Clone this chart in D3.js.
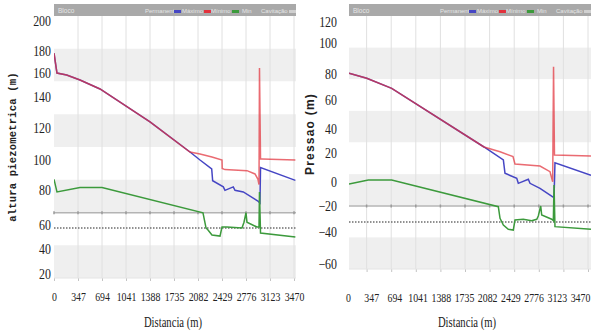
<!DOCTYPE html>
<html><head><meta charset="utf-8">
<script src="https://cdn.jsdelivr.net/npm/d3@7"></script>
<style>body{margin:0;background:#fff}svg{display:block}</style>
</head><body>
<svg id="c" width="591" height="334"></svg>
<script>
// ---------- data ----------
const xTicks = [0,347,694,1041,1388,1735,2082,2429,2776,3123,3470];
const leftYTicks = [20,40,60,80,100,120,140,160,180,200];
const rightYTicks = [-60,-40,-20,0,20,40,60,80,100,120];
const legendNames = ["Permanente","Máximo","Mínimo","Min","Cavitação"];

// Left: altura piezometrica (m) vs distancia (m)
const leftPermanente = [[0,178],[43,160],[183,158.3],[376,154.2],[665,146.7],[1388,123.9],[1966,105],[2111,100],[2280,94.1],[2294,86.2],[2448,82.1],[2472,79.8],[2592,82.1],[2617,79.8],[2737,78.9],[2954,73.5],[2978,72.6],[2986,95],[3490,86.4]];
const leftMaximo = [[0,178],[43,160],[183,158.3],[376,154.2],[665,146.7],[1388,123.9],[1966,105],[2111,103.8],[2284,101.9],[2429,100],[2432,94.3],[2472,93.6],[2790,92.9],[2906,90.7],[2949,87.1],[2964,83.6],[2971,164.5],[2986,100.6],[3007,100.6],[3490,100]];
const leftMinimo = [[0,87.1],[43,78.9],[376,81.6],[694,81.6],[2154,67],[2198,57.5],[2227,55.8],[2284,51.7],[2400,50.8],[2429,58.3],[2501,58.3],[2718,57.5],[2747,61.6],[2776,67],[2790,61.6],[2935,58.3],[2964,58.3],[2971,78.9],[2986,53.3],[3490,50]];
const leftVapor = 67;
const leftDotted = 57.5;

// Right: pressao (m) vs distancia (m)
const rightPermanente = [[99,80.5],[349,76.7],[701,69],[2003,25],[2276,15.2],[2299,6],[2465,2.6],[2487,-1.1],[2628,1.9],[2652,-1.1],[2793,-5.3],[2972,-12.3],[2991,-13.3],[3004,13.3],[3512,4.6]];
const rightMaximo = [[99,80.5],[349,76.7],[701,69],[2003,25],[2229,21],[2412,17.5],[2440,12.4],[2793,11],[2934,7.1],[2972,0.2],[2984,84.7],[2997,18.6],[3512,17.9]];
const rightMinimo = [[99,-1.7],[371,1.4],[701,1.4],[2205,-20.5],[2229,-29.5],[2276,-34.6],[2346,-37.9],[2416,-38.5],[2440,-30.8],[2557,-30.2],[2675,-31.3],[2747,-30.2],[2769,-27.7],[2803,-20],[2817,-26.9],[2958,-30.2],[2981,-31.3],[2991,-2.5],[3004,-35.9],[3512,-37.9]];
const rightVapor = -20;
const rightDotted = -32.3;

// ---------- drawing ----------
const svg = d3.select("#c");
svg.append("rect").attr("width",591).attr("height",334).attr("fill","#fff");

const COLORS = {perm:"#4646c4", max:"#e2323c", min:"#3c9a3c"};

function panel(cfg){
  const g = svg.append("g");
  const x = d3.scaleLinear().domain([0,3470]).range(cfg.xRange);
  const xl = d3.scaleLinear().domain([0,3470]).range(cfg.xLabelRange);
  const y = d3.scaleLinear().domain(cfg.yTicks).range(cfg.yPix);
  const top = 16, bottom = cfg.bottom, x0 = cfg.x0, xr = cfg.x1;
  const inside = xTicks.filter(d => x(d) >= x0 - 0.5);

  // bands
  const bs = d3.scaleLinear().domain([0,8]).range([top,bottom]);
  g.selectAll("rect.band").data(d3.range(8)).join("rect").attr("class","band")
    .attr("x",x0).attr("width",xr-x0)
    .attr("y",d=>bs(d)).attr("height",d=>bs(d+1)-bs(d))
    .attr("fill",d=>d%2?"#efefef":"#ffffff");

  // vertical grid
  g.selectAll("line.vg").data(inside.filter(d=>x(d)>x0+1)).join("line").attr("class","vg")
    .attr("x1",d=>x(d)).attr("x2",d=>x(d)).attr("y1",top).attr("y2",bottom)
    .attr("stroke","#e0e0e0").attr("stroke-width",1);

  // header bar
  g.append("rect").attr("x",x0).attr("y",4).attr("width",xr-x0).attr("height",12).attr("fill","#a9a9a9");
  g.append("text").attr("x",x0+4).attr("y",12.5).text("Bloco")
    .attr("font-family","Liberation Sans").attr("font-size",6.5).attr("fill","#e6e6e6");
  const leg = [
    {t:legendNames[0], dx:-151, c:COLORS.perm, sx:-122},
    {t:legendNames[1], dx:-114, c:COLORS.max, sx:-92},
    {t:legendNames[2], dx:-85, c:COLORS.min, sx:-64},
    {t:legendNames[3], dx:-54, c:null},
    {t:legendNames[4], dx:-35, c:"#d0d0d0", sx:-7}
  ];
  leg.forEach(l=>{
    g.append("text").attr("x",xr+l.dx).attr("y",12.5).text(l.t)
      .attr("font-family","Liberation Sans").attr("font-size",6).attr("fill","#e6e6e6");
    if(l.c) g.append("rect").attr("x",xr+l.sx).attr("y",10).attr("width",7).attr("height",3).attr("fill",l.c);
  });

  // reference lines
  g.append("line").attr("x1",x0).attr("x2",xr).attr("y1",y(cfg.vapor)).attr("y2",y(cfg.vapor))
    .attr("stroke","#b4b4b4").attr("stroke-width",1.5);
  g.selectAll("line.mk").data(inside).join("line").attr("class","mk")
    .attr("x1",d=>x(d)).attr("x2",d=>x(d)).attr("y1",y(cfg.vapor)-1.5).attr("y2",y(cfg.vapor)+1.5)
    .attr("stroke","#9a9a9a").attr("stroke-width",1.5);
  g.append("line").attr("x1",x0).attr("x2",xr).attr("y1",y(cfg.dotted)).attr("y2",y(cfg.dotted))
    .attr("stroke","#6e6e6e").attr("stroke-width",1.4).attr("stroke-dasharray","1.5,1.5");

  // clip
  const cid = "clip"+cfg.id;
  svg.append("clipPath").attr("id",cid).append("rect")
    .attr("x",x0).attr("y",top).attr("width",xr-x0).attr("height",bottom-top);
  const lg = g.append("g").attr("clip-path",`url(#${cid})`);
  const line = d3.line().x(d=>x(d[0])).y(d=>y(d[1]));
  lg.append("path").attr("d",line(cfg.perm)).attr("fill","none").attr("stroke",COLORS.perm).attr("stroke-width",1.5);
  lg.append("path").attr("d",line(cfg.min)).attr("fill","none").attr("stroke",COLORS.min).attr("stroke-width",1.5);
  lg.append("path").attr("d",line(cfg.max)).attr("fill","none").attr("stroke",COLORS.max).attr("stroke-width",1.5).attr("stroke-opacity",0.72);

  // x axis: tick marks on the plot's own scale
  const xa = g.append("g").attr("transform",`translate(0,${bottom})`)
    .call(d3.axisBottom(x).tickValues(inside).tickSize(3).tickFormat(""));
  xa.select(".domain").remove();
  xa.selectAll(".tick line").attr("stroke","#c4c4c4");
  g.append("line").attr("x1",x0).attr("x2",xr).attr("y1",bottom).attr("y2",bottom).attr("stroke","#e4e4e4");
  // x axis labels
  const xla = g.append("g").attr("transform",`translate(0,${cfg.xLabelY})`)
    .call(d3.axisBottom(xl).tickValues(xTicks).tickSize(0).tickPadding(0).tickFormat(d3.format("d")));
  xla.select(".domain").remove();
  xla.selectAll("text").attr("font-family","Liberation Serif").attr("font-size",12).attr("fill","#222")
    .attr("dy","0").attr("y",4).attr("transform","scale(0.82,1)");

  // y axis
  const ya = g.append("g").attr("transform",`translate(${cfg.yLabelX},0)`)
    .call(d3.axisLeft(y).tickValues(cfg.yTicks).tickSize(0).tickPadding(0));
  ya.select(".domain").remove();
  ya.selectAll("text").attr("font-family","Liberation Serif").attr("font-size",14.5).attr("fill","#222")
    .attr("transform","scale(0.82,1)");

  // titles
  g.append("text").attr("transform",`translate(${cfg.titleX},327) scale(0.76,1)`).attr("text-anchor","middle")
    .attr("font-family","Liberation Serif").attr("font-size",14).attr("fill","#222")
    .text("Distancia (m)");
  g.append("text").attr("transform",`translate(${cfg.yTitle.x},${cfg.yTitle.y}) rotate(-90)`)
    .attr("text-anchor","middle").attr("font-family",cfg.yTitle.font).attr("font-weight","bold")
    .attr("font-size",cfg.yTitle.size).attr("letter-spacing",cfg.yTitle.ls).attr("fill","#222")
    .text(cfg.yTitle.text);
}

panel({id:"L", x0:54, x1:296, bottom:278, xRange:[54,294], xLabelRange:[54,294], xLabelY:297,
  yTicks:leftYTicks, yPix:[274,249,225,190,160,128,97,73,51,21],
  perm:leftPermanente, max:leftMaximo, min:leftMinimo, vapor:leftVapor, dotted:leftDotted,
  yLabelX:51, titleX:173,
  yTitle:{x:16, y:147, text:"altura piezometrica (m)", font:"Liberation Mono", size:10.5, ls:0.2}});

panel({id:"R", x0:349, x1:591, bottom:269, xRange:[342,588], xLabelRange:[348,580], xLabelY:298,
  yTicks:rightYTicks, yPix:[264,232,206,182,153,129,100,74,43,22],
  perm:rightPermanente, max:rightMaximo, min:rightMinimo, vapor:rightVapor, dotted:rightDotted,
  yLabelX:337, titleX:467,
  yTitle:{x:314, y:134, text:"Pressao (m)", font:"Liberation Sans", size:12, ls:1.2}});
</script>
</body></html>
